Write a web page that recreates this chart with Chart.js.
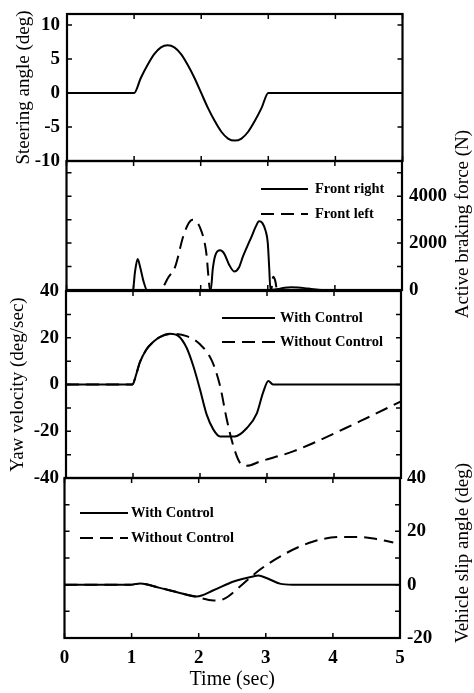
<!DOCTYPE html>
<html>
<head>
<meta charset="utf-8">
<script src="https://cdn.jsdelivr.net/npm/chart.js@4.4.1/dist/chart.umd.min.js"></script>
<style>
  body { margin: 0; background: #fff; }
  #wrap { position: relative; width: 474px; height: 693px; background: #fff; }
  #wrap canvas { position: absolute; left: 0; }
</style>
</head>
<body>
<div id="wrap">
  <canvas id="c1" width="474" height="175" style="top:0px"></canvas>
  <canvas id="c2" width="474" height="240" style="top:100px"></canvas>
  <canvas id="c3" width="474" height="215" style="top:275px"></canvas>
  <canvas id="c4" width="474" height="253" style="top:440px"></canvas>
</div>
<script>
// time axis
const timeTicks = [0, 1, 2, 3, 4, 5];

// steering angle (deg)
const steerTime  = [0, 1.0, 1.1, 1.2, 1.3, 1.4, 1.5, 1.6, 1.7, 1.8, 1.9, 2.0, 2.1, 2.2, 2.3, 2.4, 2.5, 2.6, 2.7, 2.8, 2.9, 3.0, 5];
const steerAngle = [0, 0, 2.2, 4.1, 5.7, 6.7, 7.0, 6.7, 5.7, 4.1, 2.2, 0, -2.2, -4.1, -5.7, -6.7, -7.0, -6.7, -5.7, -4.1, -2.2, 0, 0];
const steerTicks = [-10, -5, 0, 5, 10];

// active braking force (N)
const frTime  = [0, 0.99, 1.02, 1.06, 1.10, 1.15, 1.20, 2.15, 2.18, 2.22, 2.29, 2.35, 2.42, 2.50, 2.57, 2.63, 2.70, 2.76, 2.82, 2.87, 2.92, 2.97, 3.00, 3.02, 3.04, 3.15, 3.25, 3.35, 3.45, 3.55, 3.65, 3.8, 5];
const frForce = [0, 0, 750, 1320, 950, 350, 0, 0, 900, 1500, 1690, 1550, 1100, 790, 960, 1430, 1900, 2290, 2700, 2930, 2850, 2500, 2000, 1000, 0, 40, 100, 120, 110, 80, 40, 0, 0];
const flTime  = [0, 1.39, 1.45, 1.51, 1.62, 1.74, 1.82, 1.88, 1.94, 1.99, 2.06, 2.09, 2.11, 2.14, 3.05, 3.08, 3.11, 3.14, 5];
const flForce = [0, 0, 180, 500, 1000, 2290, 2850, 3000, 2900, 2660, 2000, 1430, 730, 0, 0, 560, 400, 0, 0];
const brakeTicks = [0, 2000, 4000];
const brakeMarks = [0, 1000, 2000, 3000, 4000, 5000];

// yaw velocity (deg/sec)
const yawTime    = [0, 0.99, 1.05, 1.10, 1.20, 1.30, 1.40, 1.55, 1.68, 1.80, 1.90, 2.00, 2.10, 2.20, 2.30, 2.52, 2.70, 2.85, 2.94, 3.02, 3.09, 5];
const yawWith    = [0, 0, 4.5, 9.3, 15, 18.2, 20.3, 21.7, 20.7, 15.7, 7.9, -2.1, -12.9, -19.3, -22.2, -22.2, -18.6, -12.2, -3.6, 1.5, 0, 0];
const yawNoTime  = [0, 0.99, 1.05, 1.10, 1.20, 1.30, 1.40, 1.60, 1.80, 2.00, 2.18, 2.30, 2.40, 2.50, 2.60, 2.70, 2.90, 3.39, 4.39, 5];
const yawWithout = [0, 0, 4.5, 9.3, 15, 18.2, 20.3, 21.7, 20.7, 17.2, 10, -0.7, -15, -26.5, -33.6, -34.8, -32.9, -28.6, -15.7, -7.2];
const yawTicks   = [-40, -20, 0, 20, 40];
const yawMarks   = [-40, -30, -20, -10, 0, 10, 20, 30, 40];

// vehicle slip angle (deg)
const slipTime    = [0, 0.98, 1.13, 1.42, 1.72, 1.97, 2.22, 2.52, 2.81, 2.89, 3.01, 3.21, 3.40, 5];
const slipWith    = [0, 0, 0.4, -1.2, -3.1, -4.4, -2.1, 1.2, 3.1, 3.4, 2.5, 0.4, 0, 0];
const slipNoTime  = [0, 0.98, 1.13, 1.42, 1.72, 1.97, 2.22, 2.37, 2.62, 2.91, 3.31, 3.71, 4.11, 4.40, 4.65, 4.9];
const slipWithout = [0, 0, 0.4, -1.2, -3.1, -4.6, -5.9, -5.4, -0.6, 5.6, 11.9, 16.2, 17.9, 17.9, 17.1, 15.8];
const slipTicks   = [-20, 0, 20, 40];
const slipMarks   = [-20, -10, 0, 10, 20, 30, 40];

Chart.defaults.font.family = '"Liberation Serif", "Times New Roman", serif';
Chart.defaults.color = '#000';

const pts = (xs, ys) => xs.map((x, i) => ({ x: x, y: ys[i] }));
const DASH = [13, 7];
const tickFont = { size: 19, weight: 'bold' };
const titleFont = { size: 19 };

function line(label, xs, ys, dashed) {
    return {
        label: label,
        data: pts(xs, ys),
        borderColor: '#000',
        borderWidth: 2,
        borderDash: dashed ? DASH : [],
        pointRadius: 0,
        fill: false,
        cubicInterpolationMode: 'monotone'
    };
}

// frame, inward ticks, in-plot legend and right-hand titles
const framePlugin = {
    id: 'frame',
    afterDatasetsDraw(chart, args, opts) {
        const { ctx, chartArea: a, scales } = chart;
        const x = scales.x, y = scales.y;
        const off = chart.canvas.offsetTop;
        ctx.save();
        ctx.strokeStyle = '#000';
        ctx.lineWidth = 1.5;
        ctx.beginPath();
        opts.marks.forEach(v => {
            const py = y.getPixelForValue(v);
            ctx.moveTo(a.left, py); ctx.lineTo(a.left + 5, py);
            ctx.moveTo(a.right, py); ctx.lineTo(a.right - 5, py);
        });
        timeTicks.forEach(v => {
            const px = x.getPixelForValue(v);
            ctx.moveTo(px, a.top); ctx.lineTo(px, a.top + 5);
            ctx.moveTo(px, a.bottom); ctx.lineTo(px, a.bottom - 5);
        });
        ctx.stroke();
        ctx.lineWidth = 2.2;
        ctx.strokeRect(a.left, a.top, a.right - a.left, a.bottom - a.top);

        if (opts.legend) {
            const L = opts.legend;
            ctx.font = 'bold 14.5px "Liberation Serif", serif';
            ctx.fillStyle = '#000';
            ctx.textBaseline = 'middle';
            ctx.textAlign = 'left';
            chart.data.datasets.forEach((ds, i) => {
                const ly = L.ys[i] - off;
                ctx.lineWidth = ds.borderWidth;
                ctx.setLineDash(ds.borderDash || []);
                ctx.beginPath();
                ctx.moveTo(L.x1, ly); ctx.lineTo(L.x2, ly);
                ctx.stroke();
                ctx.setLineDash([]);
                ctx.fillText(ds.label, L.tx, ly);
            });
        }
        if (opts.sideTitle) {
            const T = opts.sideTitle;
            ctx.translate(T.x, T.y - off);
            ctx.rotate(-Math.PI / 2);
            ctx.font = '19px "Liberation Serif", serif';
            ctx.fillStyle = '#000';
            ctx.textAlign = 'center';
            ctx.textBaseline = 'middle';
            ctx.fillText(T.text, 0, 0);
        }
        ctx.restore();
    }
};

function xScale(show) {
    return {
        type: 'linear', min: 0, max: 5,
        display: show,
        afterBuildTicks: s => { s.ticks = timeTicks.map(v => ({ value: v })); },
        afterFit: s => { if (show) s.height = 55; },
        grid: { display: false, drawTicks: false },
        border: { display: false },
        ticks: { font: tickFont, padding: 9, callback: v => String(v) },
        title: { display: show, text: 'Time (sec)', font: { size: 20 }, padding: { top: 0, bottom: 1 } }
    };
}

function yScale(pos, min, max, ticks, width, title, titlePad) {
    return {
        type: 'linear', position: pos, min: min, max: max,
        afterBuildTicks: s => { s.ticks = ticks.map(v => ({ value: v })); },
        afterFit: s => { s.width = width; s.paddingTop = 0; s.paddingBottom = 0; },
        grid: { display: false, drawTicks: false },
        border: { display: false },
        ticks: { font: tickFont, padding: 7, callback: v => String(v) },
        title: { display: !!title, text: title || '', font: titleFont, padding: { top: titlePad || 0, bottom: 0 } }
    };
}

function panel(id, datasets, yOpts, padding, frameOpts, showX) {
    return new Chart(document.getElementById(id), {
        type: 'line',
        data: { datasets: datasets },
        options: {
            responsive: false,
            animation: false,
            devicePixelRatio: 1,
            layout: { padding: padding, autoPadding: false },
            plugins: { legend: { display: false }, tooltip: { enabled: false }, frame: frameOpts },
            scales: { x: xScale(showX), y: yOpts }
        },
        plugins: [framePlugin]
    });
}

panel('c1',
    [line('Steering angle', steerTime, steerAngle, false)],
    yScale('left', -10, 11.6, steerTicks, 67, 'Steering angle (deg)', 13),
    { top: 14, bottom: 14, left: 0, right: 71.5 },
    { marks: steerTicks }, false);

panel('c2',
    [line('Front right', frTime, frForce, false), line('Front left', flTime, flForce, true)],
    yScale('right', 0, 5500, brakeTicks, 72),
    { top: 61, bottom: 50, left: 66.5, right: 0 },
    { marks: brakeMarks,
      legend: { x1: 261, x2: 308, tx: 315, ys: [189, 214] },
      sideTitle: { text: 'Active braking force (N)', x: 463, y: 224 } }, false);

panel('c3',
    [line('With Control', yawTime, yawWith, false), line('Without Control', yawNoTime, yawWithout, true)],
    yScale('left', -40, 40, yawTicks, 66, 'Yaw velocity (deg/sec)', 7),
    { top: 16, bottom: 12, left: 0, right: 73 },
    { marks: yawMarks,
      legend: { x1: 222, x2: 275, tx: 280, ys: [318, 342] } }, false);

panel('c4',
    [line('With Control', slipTime, slipWith, false), line('Without Control', slipNoTime, slipWithout, true)],
    yScale('right', -20, 40, slipTicks, 74),
    { top: 38, bottom: 0, left: 64.5, right: 0 },
    { marks: slipMarks,
      legend: { x1: 80, x2: 128, tx: 131, ys: [513, 538] },
      sideTitle: { text: 'Vehicle slip angle (deg)', x: 463, y: 553 } }, true);
</script>
</body>
</html>
